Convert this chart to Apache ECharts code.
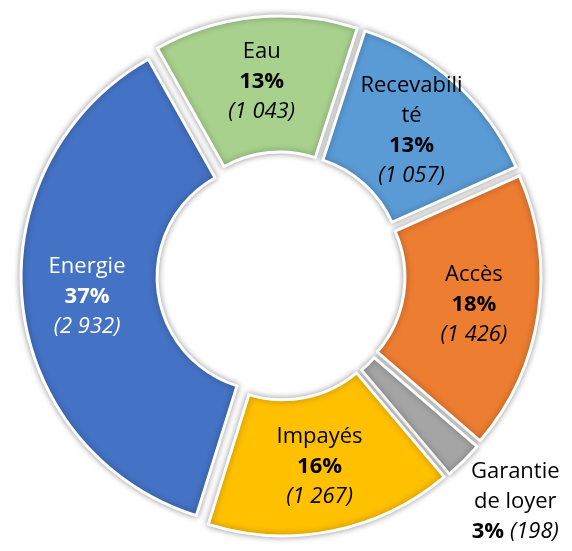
<!DOCTYPE html>
<html>
<head>
<meta charset="utf-8">
<script src="https://cdn.jsdelivr.net/npm/echarts@6/dist/echarts.min.js"></script>
<style>
  html, body { margin: 0; padding: 0; background: #ffffff; }
  #chart { width: 572px; height: 551px; }
</style>
</head>
<body>
<div id="chart"></div>
<script>
// Demandes par thème
const categories = ['Recevabilité', 'Accès', 'Garantie de loyer', 'Impayés', 'Energie', 'Eau'];
const counts = [1057, 1426, 198, 1267, 2932, 1043];
const sliceColors = ['#5B9BD5', '#ED7D31', '#A5A5A5', '#FFC000', '#4472C4', '#A9D18E'];
const labelColors = ['#000000', '#000000', '#000000', '#000000', '#ffffff', '#000000'];

const FONT = '"Open Sans", "Noto Sans", sans-serif';
const FONT_SIZE = 22;

function formatCount(v) {
  return String(v).replace(/\B(?=(\d{3})+(?!\d))/g, ' ');
}

// split long names onto several lines, the way a narrow slice wraps them
function wrapName(name, max) {
  if (name.indexOf(' ') >= 0) {
    return name.replace(' ', '\n');
  }
  if (name.length <= max) return name;
  const parts = [];
  for (let i = 0; i < name.length; i += max) parts.push(name.slice(i, i + max));
  return parts.join('\n');
}

function richFor(color) {
  return {
    s: { fontSize: 1, lineHeight: 77 },
    n: { fontFamily: FONT, fontSize: FONT_SIZE, color: color, lineHeight: 30, align: 'center' },
    p: { fontFamily: FONT, fontSize: FONT_SIZE, fontWeight: 'bold', color: color, lineHeight: 30, align: 'center' },
    v: { fontFamily: FONT, fontSize: FONT_SIZE, fontStyle: 'italic', color: color, lineHeight: 30, align: 'center' }
  };
}

const data = categories.map((name, i) => {
  const item = {
    name: name,
    value: counts[i],
    selected: true,
    itemStyle: { color: sliceColors[i] },
    label: { rich: richFor(labelColors[i]) }
  };
  if (name === 'Garantie de loyer') {
    // the small slice carries its label just outside, below-right
    item.label = {
      position: 'outside',
      rich: richFor('#000000'),
      formatter: p => '{s| }\n{n|' + wrapName(p.name, 10) + '}\n{p|' + p.percent + '% }{v|(' + formatCount(p.value) + ')}'
    };
    item.labelLine = { show: false, length: 3, length2: 0 };
  }
  return item;
});

const chart = echarts.init(document.getElementById('chart'), null, { renderer: 'canvas' });
chart.setOption({
  animation: false,
  backgroundColor: '#ffffff',
  series: [{
    type: 'pie',
    center: [281, 276],
    radius: [114, 250],
    startAngle: 72,
    clockwise: true,
    percentPrecision: 0,
    selectedMode: 'multiple',
    selectedOffset: 10,
    avoidLabelOverlap: false,
    silent: true,
    itemStyle: {
      borderColor: '#ffffff',
      borderWidth: 3,
      shadowBlur: 6,
      shadowColor: 'rgba(0,0,0,0.35)'
    },
    select: {
      itemStyle: {
        borderColor: '#ffffff',
        borderWidth: 3,
        shadowBlur: 6,
        shadowColor: 'rgba(0,0,0,0.35)'
      }
    },
    emphasis: { disabled: true },
    label: {
      show: true,
      position: 'inside',
      formatter: p => '{n|' + wrapName(p.name, 10) + '}\n{p|' + p.percent + '%}\n{v|(' + formatCount(p.value) + ')}'
    },
    labelLine: { show: false },
    data: data
  }]
});
</script>
</body>
</html>
